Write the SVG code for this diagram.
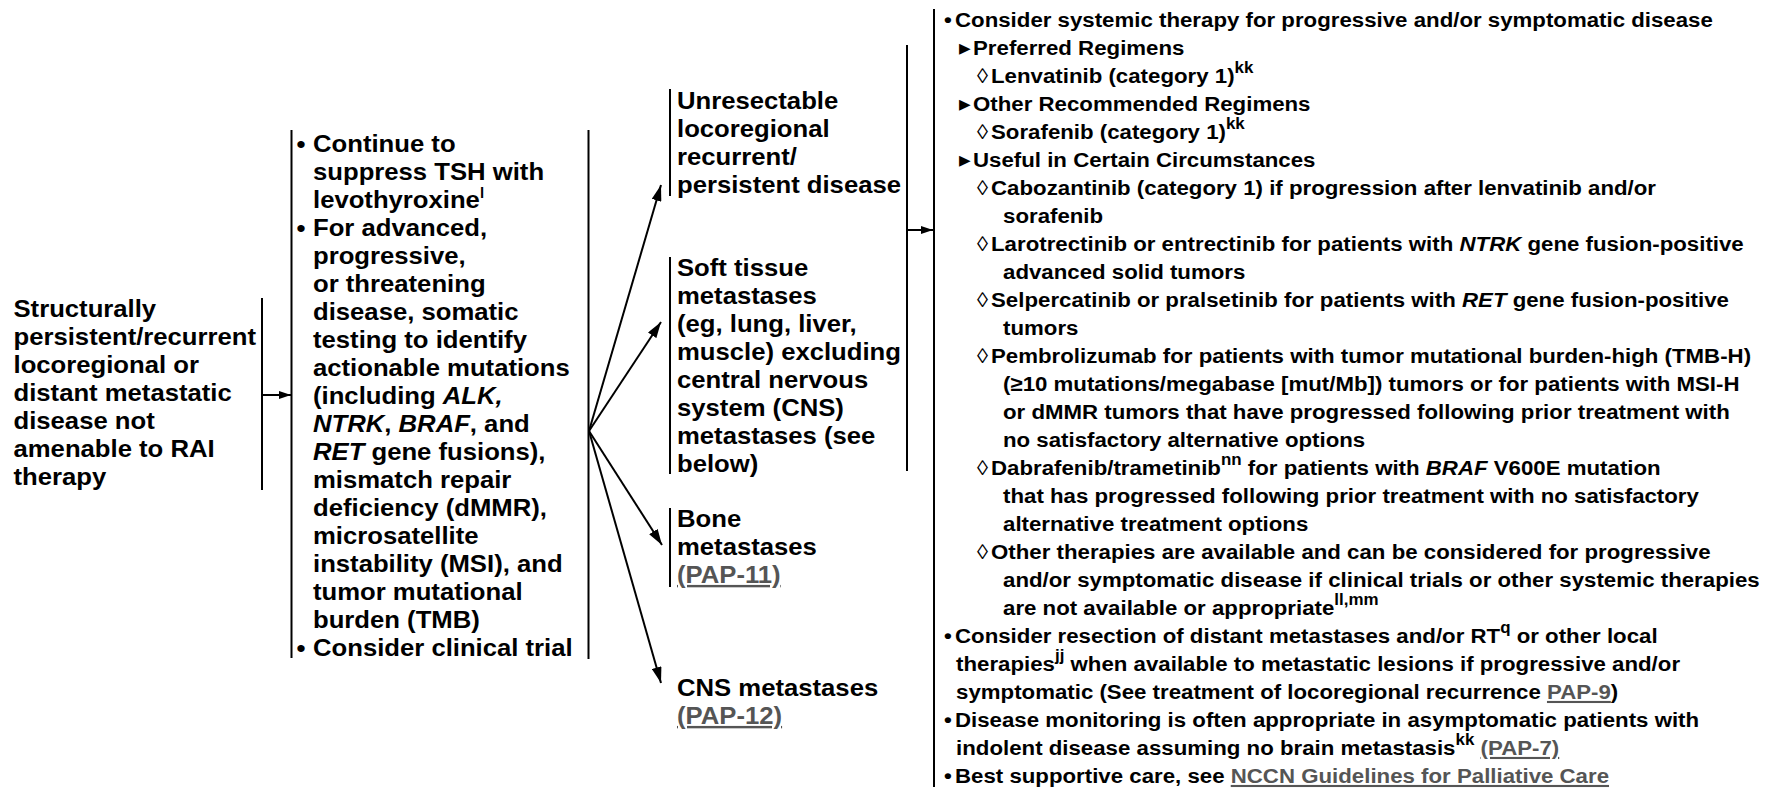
<svg xmlns="http://www.w3.org/2000/svg" width="1779" height="791" viewBox="0 0 1779 791">
<style>
.t{font-family:"Liberation Sans",Arial,Helvetica,sans-serif;font-weight:bold;fill:#000}
.m{font-size:24px}
.r{font-size:21px}
.i{font-style:italic}
.sup{font-size:14px}
.supr{font-size:16px}
.lnk{fill:#555;text-decoration:underline}
.ln{stroke:#000;stroke-width:2;fill:none}
.tri{font-family:"DejaVu Sans",sans-serif;font-size:22px;font-weight:normal}
.loz{font-weight:normal}
</style>
<defs>
<marker id="ah" viewBox="0 0 16 10" refX="16" refY="5" markerWidth="16" markerHeight="10" markerUnits="userSpaceOnUse" orient="auto"><path d="M0,0 L16,5 L0,10 z" fill="#000"/></marker>
<marker id="ahs" viewBox="0 0 12 8" refX="12" refY="4" markerWidth="12" markerHeight="8" markerUnits="userSpaceOnUse" orient="auto"><path d="M0,0 L12,4 L0,8 z" fill="#000"/></marker>
</defs>
<rect width="1779" height="791" fill="#fff"/>

<g id="connectors">
<line class="ln" x1="262" y1="298" x2="262" y2="490"/>
<line class="ln" x1="262" y1="395" x2="291" y2="395" marker-end="url(#ahs)"/>
<line class="ln" x1="291.5" y1="130" x2="291.5" y2="658"/>
<line class="ln" x1="588.5" y1="130" x2="588.5" y2="659"/>
<line class="ln" x1="589" y1="431" x2="661" y2="185" marker-end="url(#ah)"/>
<line class="ln" x1="589" y1="431" x2="661" y2="322" marker-end="url(#ah)"/>
<line class="ln" x1="589" y1="431" x2="662" y2="545" marker-end="url(#ah)"/>
<line class="ln" x1="589" y1="431" x2="661" y2="683" marker-end="url(#ah)"/>
<line class="ln" x1="907" y1="45" x2="907" y2="471"/>
<line class="ln" x1="907" y1="230" x2="933" y2="230" marker-end="url(#ahs)"/>
<line class="ln" x1="934" y1="9" x2="934" y2="787"/>
</g>

<g id="node-start">
<g transform="translate(13.5,0) scale(1.07,1)" class="t m">
<text x="0" y="317">Structurally</text>
<text x="0" y="345">persistent/recurrent</text>
<text x="0" y="373">locoregional or</text>
<text x="0" y="401">distant metastatic</text>
<text x="0" y="429">disease not</text>
<text x="0" y="457">amenable to RAI</text>
<text x="0" y="485">therapy</text>
</g>
</g>

<g id="node-workup">
<g transform="translate(313,0) scale(1.07,1)" class="t m">
<text x="-15.5" y="152.5">•</text>
<text x="0" y="152.5">Continue to</text>
<text x="0" y="180.5">suppress TSH with</text>
<text x="0" y="208.5">levothyroxine<tspan class="sup" dy="-10">l</tspan></text>
<text x="-15.5" y="236.5">•</text>
<text x="0" y="236.5">For advanced,</text>
<text x="0" y="264.5">progressive,</text>
<text x="0" y="292.5">or threatening</text>
<text x="0" y="320.5">disease, somatic</text>
<text x="0" y="348.5">testing to identify</text>
<text x="0" y="376.5">actionable mutations</text>
<text x="0" y="404.5">(including <tspan class="i">ALK,</tspan></text>
<text x="0" y="432.5"><tspan class="i">NTRK</tspan>, <tspan class="i">BRAF</tspan>, and</text>
<text x="0" y="460.5"><tspan class="i">RET</tspan> gene fusions),</text>
<text x="0" y="488.5">mismatch repair</text>
<text x="0" y="516.5">deficiency (dMMR),</text>
<text x="0" y="544.5">microsatellite</text>
<text x="0" y="572.5">instability (MSI), and</text>
<text x="0" y="600.5">tumor mutational</text>
<text x="0" y="628.5">burden (TMB)</text>
<text x="-15.5" y="656">•</text>
<text x="0" y="656">Consider clinical trial</text>
</g>
</g>

<g id="node-unresectable">
<line class="ln" x1="670" y1="89" x2="670" y2="196"/>
<g transform="translate(677,0) scale(1.07,1)" class="t m">
<text x="0" y="109">Unresectable</text>
<text x="0" y="137">locoregional</text>
<text x="0" y="165">recurrent/</text>
<text x="0" y="193">persistent disease</text>
</g>
</g>

<g id="node-softtissue">
<line class="ln" x1="670" y1="257" x2="670" y2="474"/>
<g transform="translate(677,0) scale(1.07,1)" class="t m">
<text x="0" y="276">Soft tissue</text>
<text x="0" y="304">metastases</text>
<text x="0" y="332">(eg, lung, liver,</text>
<text x="0" y="360">muscle) excluding</text>
<text x="0" y="388">central nervous</text>
<text x="0" y="416">system (CNS)</text>
<text x="0" y="444">metastases (see</text>
<text x="0" y="472">below)</text>
</g>
</g>

<g id="node-bone">
<line class="ln" x1="670" y1="508" x2="670" y2="587"/>
<g transform="translate(677,0) scale(1.07,1)" class="t m">
<text x="0" y="527">Bone</text>
<text x="0" y="555">metastases</text>
<text x="0" y="583" class="lnk">(PAP-11)</text>
</g>
</g>

<g id="node-cns">
<g transform="translate(677,0) scale(1.07,1)" class="t m">
<text x="0" y="696">CNS metastases</text>
<text x="0" y="724" class="lnk">(PAP-12)</text>
</g>
</g>

<g id="node-treatment">
<g transform="translate(955,0) scale(1.06,1)" class="t r">
<text x="-10.4" y="27">•</text>
<text x="0" y="27">Consider systemic therapy for progressive and/or symptomatic disease</text>
<text x="3.8" y="55" class="tri">▸</text>
<text x="17" y="55">Preferred Regimens</text>
<text x="20.8" y="83" class="loz">◊</text>
<text x="34" y="83">Lenvatinib (category 1)<tspan class="supr" dy="-10">kk</tspan></text>
<text x="3.8" y="111" class="tri">▸</text>
<text x="17" y="111">Other Recommended Regimens</text>
<text x="20.8" y="139" class="loz">◊</text>
<text x="34" y="139">Sorafenib (category 1)<tspan class="supr" dy="-10">kk</tspan></text>
<text x="3.8" y="167" class="tri">▸</text>
<text x="17" y="167">Useful in Certain Circumstances</text>
<text x="20.8" y="195" class="loz">◊</text>
<text x="34" y="195">Cabozantinib (category 1) if progression after lenvatinib and/or</text>
<text x="45.3" y="223">sorafenib</text>
<text x="20.8" y="251" class="loz">◊</text>
<text x="34" y="251">Larotrectinib or entrectinib for patients with <tspan class="i">NTRK</tspan> gene fusion-positive</text>
<text x="45.3" y="279">advanced solid tumors</text>
<text x="20.8" y="307" class="loz">◊</text>
<text x="34" y="307">Selpercatinib or pralsetinib for patients with <tspan class="i">RET</tspan> gene fusion-positive</text>
<text x="45.3" y="335">tumors</text>
<text x="20.8" y="363" class="loz">◊</text>
<text x="34" y="363">Pembrolizumab for patients with tumor mutational burden-high (TMB-H)</text>
<text x="45.3" y="391">(≥10 mutations/megabase [mut/Mb]) tumors or for patients with MSI-H</text>
<text x="45.3" y="419">or dMMR tumors that have progressed following prior treatment with</text>
<text x="45.3" y="447">no satisfactory alternative options</text>
<text x="20.8" y="475" class="loz">◊</text>
<text x="34" y="475">Dabrafenib/trametinib<tspan class="supr" dy="-10">nn</tspan><tspan dy="10"> for patients with </tspan><tspan class="i">BRAF</tspan> V600E mutation</text>
<text x="45.3" y="503">that has progressed following prior treatment with no satisfactory</text>
<text x="45.3" y="531">alternative treatment options</text>
<text x="20.8" y="559" class="loz">◊</text>
<text x="34" y="559">Other therapies are available and can be considered for progressive</text>
<text x="45.3" y="587">and/or symptomatic disease if clinical trials or other systemic therapies</text>
<text x="45.3" y="615">are not available or appropriate<tspan class="supr" dy="-10">ll,mm</tspan></text>
<text x="-10.4" y="643">•</text>
<text x="0" y="643">Consider resection of distant metastases and/or RT<tspan class="supr" dy="-10">q</tspan><tspan dy="10"> or other local</tspan></text>
<text x="1" y="671">therapies<tspan class="supr" dy="-10">jj</tspan><tspan dy="10"> when available to metastatic lesions if progressive and/or</tspan></text>
<text x="1" y="699">symptomatic (See treatment of locoregional recurrence <tspan class="lnk">PAP-9</tspan>)</text>
<text x="-10.4" y="727">•</text>
<text x="0" y="727">Disease monitoring is often appropriate in asymptomatic patients with</text>
<text x="1" y="755">indolent disease assuming no brain metastasis<tspan class="supr" dy="-10">kk</tspan><tspan dy="10"> </tspan><tspan class="lnk">(PAP-7)</tspan></text>
<text x="-10.4" y="783">•</text>
<text x="0" y="783">Best supportive care, see <tspan class="lnk">NCCN Guidelines for Palliative Care</tspan></text>
</g>
</g>
</svg>
